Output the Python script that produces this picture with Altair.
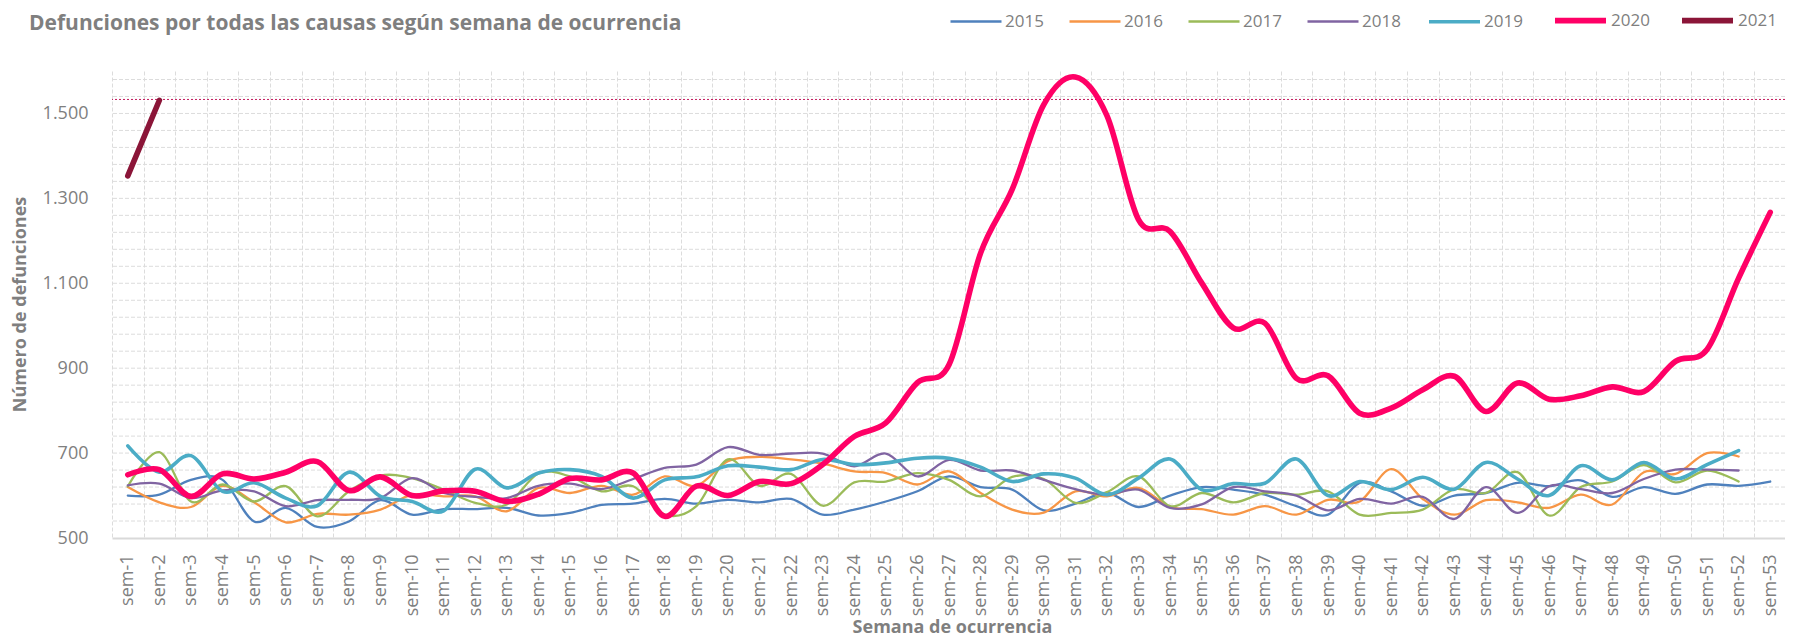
import altair as alt
import pandas as pd

weeks = [f"sem-{i}" for i in range(1, 54)]
years = ["2015", "2016", "2017", "2018", "2019", "2020", "2021"]
colors = ["#4F81BD", "#F79646", "#9BBB59", "#8064A2", "#4BACC6", "#FF0066", "#8B1538"]
widths = [2.3, 2.3, 2.3, 2.3, 3.6, 5.6, 5.6]

d2015 = [600, 602, 637, 637, 539, 571, 526, 539, 589, 555, 568, 568, 571, 553, 559, 578, 581, 592, 581, 590,
         584, 592, 555, 567, 586, 610, 645, 620, 614, 565, 581, 606, 573, 600, 620, 614, 602, 575, 555, 630,
         610, 576, 600, 606, 630, 622, 636, 597, 620, 604, 626, 623, 633]
d2016 = [620, 584, 573, 623, 584, 537, 557, 555, 567, 602, 598, 598, 563, 618, 606, 623, 602, 645, 623, 681,
         691, 685, 675, 657, 653, 626, 657, 606, 567, 560, 610, 598, 618, 573, 568, 555, 575, 555, 590, 586,
         662, 592, 555, 589, 584, 571, 602, 579, 655, 651, 700, 692]
d2017 = [622, 702, 586, 626, 586, 622, 551, 610, 647, 641, 614, 583, 579, 652, 645, 610, 622, 555, 575, 685,
         623, 651, 576, 631, 633, 653, 637, 598, 644, 639, 583, 608, 645, 575, 606, 584, 606, 602, 610, 555,
         559, 567, 615, 606, 655, 553, 620, 633, 672, 631, 659, 633]
d2018 = [624, 628, 594, 612, 610, 575, 589, 590, 594, 641, 606, 597, 594, 623, 628, 615, 639, 665, 673, 714,
         696, 699, 699, 669, 699, 645, 684, 659, 659, 637, 615, 602, 614, 571, 579, 620, 610, 600, 565, 592,
         581, 597, 545, 620, 559, 622, 615, 606, 639, 661, 661, 659]
d2019 = [717, 655, 694, 610, 630, 594, 576, 655, 598, 586, 564, 662, 618, 653, 661, 645, 594, 637, 644, 670,
         667, 661, 685, 673, 677, 688, 688, 667, 633, 651, 641, 602, 641, 686, 614, 628, 629, 686, 600, 633,
         614, 643, 615, 678, 639, 600, 670, 637, 678, 639, 673, 706]
d2020 = [649, 661, 598, 651, 639, 655, 680, 612, 644, 600, 611, 610, 586, 603, 640, 637, 653, 551, 622, 600,
         633, 628, 673, 739, 771, 866, 908, 1171, 1321, 1521, 1586, 1495, 1250, 1222, 1101, 995, 1006, 876, 882, 794,
         806, 849, 881, 798, 865, 827, 835, 856, 845, 916, 944, 1112, 1267]
d2021 = [1353, 1531]

ref_value = [1533]
grid_values = [540, 580, 620, 660, 700, 740, 780, 820, 860, 900, 940, 980, 1020, 1060, 1100, 1140,
               1180, 1220, 1260, 1300, 1340, 1380, 1420, 1460, 1500, 1540, 1580]
y_ticks = [500, 700, 900, 1100, 1300, 1500]

series = [d2015, d2016, d2017, d2018, d2019, d2020, d2021]
rows = []
for yr, vals in zip(years, series):
    for w, v in zip(weeks, vals):
        rows.append({"anio": yr, "semana": w, "valor": v})
df = pd.DataFrame(rows)

FONT = "Open Sans"
GRAY = "#7f7f7f"

y_enc = alt.Y(
    "valor:Q",
    scale=alt.Scale(domain=[500, 1600], nice=False, zero=False),
    axis=alt.Axis(
        values=y_ticks, grid=False, domain=False, ticks=False,
        labelExpr="replace(format(datum.value, ','), ',', '.')",
        labelFontSize=18, labelColor=GRAY, labelFont=FONT, labelPadding=24,
        title="Número de defunciones", titleFontSize=18, titleFontWeight="bold",
        titleColor=GRAY, titleFont=FONT, titleX=-92, titleY=233, titleAngle=-90,
        titleAlign="center", titleBaseline="middle",
    ),
)

x_enc = alt.X(
    "semana:N",
    sort=weeks,
    scale=alt.Scale(domain=weeks, range=[0, 1674], paddingInner=0, paddingOuter=0),
    axis=alt.Axis(
        labelAngle=-90, labelFontSize=18, labelColor=GRAY, labelFont=FONT, labelPadding=16,
        ticks=False, domainColor="#d9d9d9", domainWidth=2,
        grid=True, gridColor="#dcdcdc", gridDash=[4, 2], gridWidth=1, tickBand="extent",
        title="Semana de ocurrencia", titleFontSize=18, titleFontWeight="bold",
        titleColor=GRAY, titleFont=FONT, titleX=840, titleY=94, titleBaseline="alphabetic",
        titleAlign="center",
    ),
)

legend = alt.Legend(
    title=None, orient="none", legendX=837, legendY=-79, direction="horizontal",
    symbolType="stroke", symbolSize=2601, labelFontSize=17, labelColor=GRAY, labelFont=FONT,
    labelOffset=2, columnPadding=20,
)

grid = alt.Chart(pd.DataFrame({"valor": grid_values})).mark_rule(
    color="#dcdcdc", strokeDash=[4, 2], strokeWidth=1
).encode(y=y_enc)

ref = alt.Chart(pd.DataFrame({"valor": ref_value})).mark_rule(
    color="#C2185B", strokeDash=[2, 2], strokeWidth=1
).encode(y=y_enc)

lines = alt.Chart(df).mark_line(
    interpolate="cardinal", strokeCap="round", strokeJoin="round"
).encode(
    x=x_enc,
    y=y_enc,
    color=alt.Color("anio:O", scale=alt.Scale(type="ordinal", domain=years, range=colors), legend=legend),
    strokeWidth=alt.StrokeWidth("anio:O", scale=alt.Scale(type="ordinal", domain=years, range=widths), legend=legend),
)

chart = alt.layer(grid, ref, lines).properties(
    width=1673,
    height=467,
    autosize=alt.AutoSizeParams(type="none"),
    padding={"left": 104, "top": 63, "right": 0, "bottom": 98},
    title=alt.TitleParams(
        text="Defunciones por todas las causas según semana de ocurrencia",
        anchor="start", frame="group", dx=-83, offset=-42,
        fontSize=21, fontWeight="bold", color=GRAY, font=FONT,
    ),
).configure_view(strokeWidth=0)

chart.save("out.html", embed_options={"renderer": "svg", "actions": False})
